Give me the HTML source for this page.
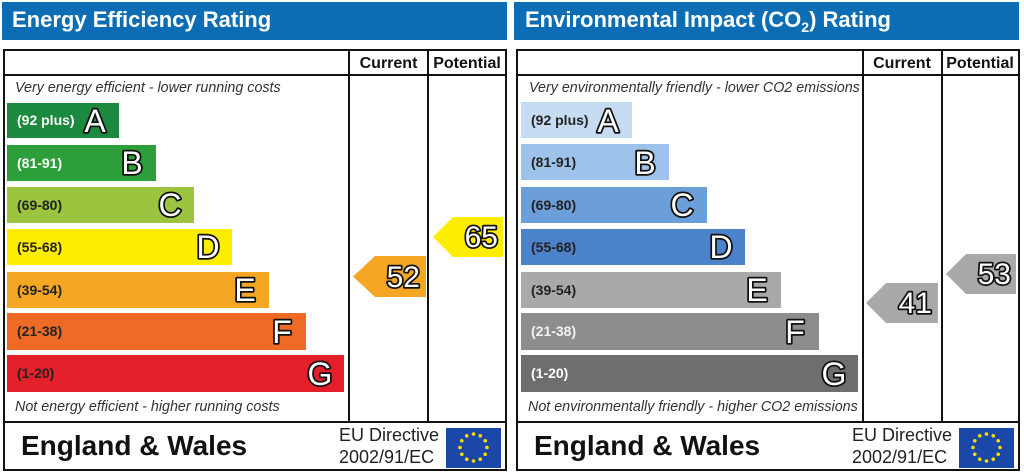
<!DOCTYPE html>
<html><head><meta charset="utf-8"><style>
html,body{margin:0;padding:0;background:#fff;}
svg{display:block;}
text{font-family:"Liberation Sans",Arial,sans-serif;}
.t{font-size:22px;font-weight:bold;fill:#fff;}
.h{font-size:16px;font-weight:bold;fill:#111;}
.i{font-size:14.3px;font-style:italic;fill:#333;}
.l{font-size:14px;font-weight:bold;}
.L{font-size:32px;fill:#fff;stroke:#111;stroke-width:3.5;paint-order:stroke fill;stroke-linejoin:round;}
.N{font-size:30px;fill:#fff;stroke:#111;stroke-width:3.5;paint-order:stroke fill;stroke-linejoin:round;}
.ew{font-size:28px;font-weight:bold;fill:#111;}
.eu{font-size:18px;fill:#222;}
</style></head><body>
<svg width="1024" height="475" viewBox="0 0 1024 475" xmlns="http://www.w3.org/2000/svg">
<rect width="1024" height="475" fill="#fff"/>

<!-- LEFT PANEL -->
<rect x="2" y="2" width="505" height="38" fill="#0c6db5"/>
<text class="t" x="12" y="27">Energy Efficiency Rating</text>
<rect x="4" y="50" width="502" height="420" fill="#fff" stroke="#111" stroke-width="2"/>
<line x1="4" y1="75" x2="506" y2="75" stroke="#111" stroke-width="2"/>
<line x1="4" y1="422" x2="506" y2="422" stroke="#111" stroke-width="2"/>
<line x1="349" y1="50" x2="349" y2="422" stroke="#111" stroke-width="2"/>
<line x1="428" y1="50" x2="428" y2="422" stroke="#111" stroke-width="2"/>
<text class="h" x="388.5" y="68" text-anchor="middle">Current</text>
<text class="h" x="467" y="68" text-anchor="middle">Potential</text>
<text class="i" x="15" y="92">Very energy efficient - lower running costs</text>
<text class="i" x="15" y="411">Not energy efficient - higher running costs</text>

<rect x="7" y="103" width="112" height="35" fill="#1b8a3e"/>
<text class="l" x="17" y="125" fill="#fff">(92 plus)</text>
<text class="L" x="95" y="132" text-anchor="middle">A</text>
<rect x="7" y="145" width="149" height="36" fill="#2c9f3b"/>
<text class="l" x="17" y="168" fill="#fff">(81-91)</text>
<text class="L" x="132" y="174" text-anchor="middle">B</text>
<rect x="7" y="187" width="187" height="36" fill="#9cc43e"/>
<text class="l" x="17" y="210" fill="#222">(69-80)</text>
<text class="L" x="170" y="216" text-anchor="middle">C</text>
<rect x="7" y="229" width="225" height="36" fill="#ffed00"/>
<text class="l" x="17" y="252" fill="#222">(55-68)</text>
<text class="L" x="208" y="258" text-anchor="middle">D</text>
<rect x="7" y="272" width="262" height="36" fill="#f5a623"/>
<text class="l" x="17" y="295" fill="#222">(39-54)</text>
<text class="L" x="245" y="301" text-anchor="middle">E</text>
<rect x="7" y="313" width="299" height="37" fill="#ee6a25"/>
<text class="l" x="17" y="336" fill="#222">(21-38)</text>
<text class="L" x="282" y="343" text-anchor="middle">F</text>
<rect x="7" y="355" width="337" height="37" fill="#e3202a"/>
<text class="l" x="17" y="378" fill="#222">(1-20)</text>
<text class="L" x="320" y="385" text-anchor="middle">G</text>

<polygon points="353,276.5 375,256 426,256 426,297 375,297" fill="#f5a623"/>
<text class="N" x="420" y="287" text-anchor="end">52</text>
<polygon points="433,237 453,217 503,217 503,257 453,257" fill="#ffed00"/>
<text class="N" x="498" y="247" text-anchor="end">65</text>

<text class="ew" x="21" y="455">England &amp; Wales</text>
<text class="eu" x="339" y="441">EU Directive</text>
<text class="eu" x="339" y="463">2002/91/EC</text>
<rect x="446" y="428" width="55" height="40" fill="#1a47a8"/>
<g fill="#ffdd00">
<circle cx="473.5" cy="434" r="1.8"/><circle cx="480.25" cy="435.8" r="1.8"/><circle cx="485.2" cy="440.75" r="1.8"/><circle cx="487" cy="447.5" r="1.8"/><circle cx="485.2" cy="454.25" r="1.8"/><circle cx="480.25" cy="459.2" r="1.8"/><circle cx="473.5" cy="461" r="1.8"/><circle cx="466.75" cy="459.2" r="1.8"/><circle cx="461.8" cy="454.25" r="1.8"/><circle cx="460" cy="447.5" r="1.8"/><circle cx="461.8" cy="440.75" r="1.8"/><circle cx="466.75" cy="435.8" r="1.8"/>
</g>

<!-- RIGHT PANEL -->
<rect x="514" y="2" width="505" height="38" fill="#0c6db5"/>
<text class="t" x="525" y="27">Environmental Impact (CO<tspan font-size="14" dy="5">2</tspan><tspan dy="-5">) Rating</tspan></text>
<rect x="517" y="50" width="502" height="420" fill="#fff" stroke="#111" stroke-width="2"/>
<line x1="517" y1="75" x2="1019" y2="75" stroke="#111" stroke-width="2"/>
<line x1="517" y1="422" x2="1019" y2="422" stroke="#111" stroke-width="2"/>
<line x1="863" y1="50" x2="863" y2="422" stroke="#111" stroke-width="2"/>
<line x1="942" y1="50" x2="942" y2="422" stroke="#111" stroke-width="2"/>
<text class="h" x="902" y="68" text-anchor="middle">Current</text>
<text class="h" x="980" y="68" text-anchor="middle">Potential</text>
<text class="i" x="529" y="92">Very environmentally friendly - lower CO2 emissions</text>
<text class="i" x="528" y="411">Not environmentally friendly - higher CO2 emissions</text>

<rect x="521" y="102" width="111" height="36" fill="#c5dcf2"/>
<text class="l" x="531" y="125" fill="#222">(92 plus)</text>
<text class="L" x="608" y="132" text-anchor="middle">A</text>
<rect x="521" y="144" width="148" height="36" fill="#9dc3ea"/>
<text class="l" x="531" y="167" fill="#222">(81-91)</text>
<text class="L" x="645" y="174" text-anchor="middle">B</text>
<rect x="521" y="187" width="186" height="36" fill="#6c9fd9"/>
<text class="l" x="531" y="210" fill="#222">(69-80)</text>
<text class="L" x="682" y="216" text-anchor="middle">C</text>
<rect x="521" y="229" width="224" height="36" fill="#4b82c9"/>
<text class="l" x="531" y="252" fill="#222">(55-68)</text>
<text class="L" x="721" y="258" text-anchor="middle">D</text>
<rect x="521" y="272" width="260" height="36" fill="#a9a9a9"/>
<text class="l" x="531" y="295" fill="#222">(39-54)</text>
<text class="L" x="757" y="301" text-anchor="middle">E</text>
<rect x="521" y="313" width="298" height="37" fill="#8d8d8d"/>
<text class="l" x="531" y="336" fill="#f2f2f2">(21-38)</text>
<text class="L" x="795" y="343" text-anchor="middle">F</text>
<rect x="521" y="355" width="337" height="37" fill="#6e6e6e"/>
<text class="l" x="531" y="378" fill="#fff">(1-20)</text>
<text class="L" x="834" y="385" text-anchor="middle">G</text>

<polygon points="866,303 886,283 938,283 938,323 886,323" fill="#a9a9a9"/>
<text class="N" x="932" y="313" text-anchor="end">41</text>
<polygon points="946,274 966,254 1016,254 1016,294 966,294" fill="#a9a9a9"/>
<text class="N" x="1011" y="284" text-anchor="end">53</text>

<text class="ew" x="534" y="455">England &amp; Wales</text>
<text class="eu" x="852" y="441">EU Directive</text>
<text class="eu" x="852" y="463">2002/91/EC</text>
<rect x="959" y="428" width="55" height="40" fill="#1a47a8"/>
<g fill="#ffdd00" transform="translate(513,0)">
<circle cx="473.5" cy="434" r="1.8"/><circle cx="480.25" cy="435.8" r="1.8"/><circle cx="485.2" cy="440.75" r="1.8"/><circle cx="487" cy="447.5" r="1.8"/><circle cx="485.2" cy="454.25" r="1.8"/><circle cx="480.25" cy="459.2" r="1.8"/><circle cx="473.5" cy="461" r="1.8"/><circle cx="466.75" cy="459.2" r="1.8"/><circle cx="461.8" cy="454.25" r="1.8"/><circle cx="460" cy="447.5" r="1.8"/><circle cx="461.8" cy="440.75" r="1.8"/><circle cx="466.75" cy="435.8" r="1.8"/>
</g>
</svg>
</body></html>
